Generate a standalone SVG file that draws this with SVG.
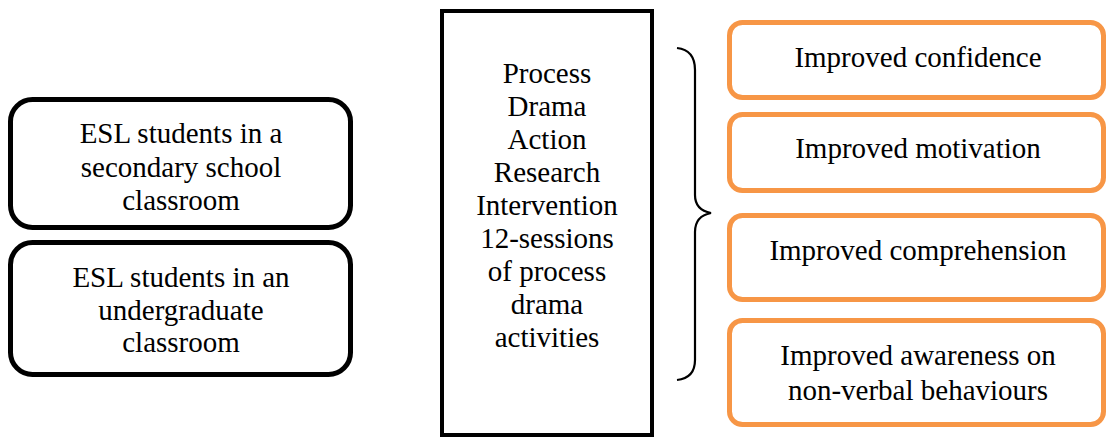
<svg xmlns="http://www.w3.org/2000/svg" width="1108" height="437" viewBox="0 0 1108 437">
<style>
.t{font-family:"Liberation Serif","Times New Roman",serif;font-size:29px;fill:#000;text-anchor:middle}
.blk{fill:#fff;stroke:#000;stroke-width:5}
.org{fill:#fff;stroke:#F79646;stroke-width:5}
</style>
<rect width="1108" height="437" fill="#fff"/>
<g id="node-secondary">
<rect class="blk" x="10.5" y="99.5" width="340" height="128" rx="22"/>
<text class="t" x="181" y="143">ESL students in a</text>
<text class="t" x="181" y="177">secondary school</text>
<text class="t" x="181" y="210">classroom</text>
</g>
<g id="node-undergraduate">
<rect class="blk" x="10.5" y="242.5" width="340" height="132" rx="22"/>
<text class="t" x="181" y="287">ESL students in an</text>
<text class="t" x="181" y="320">undergraduate</text>
<text class="t" x="181" y="352">classroom</text>
</g>
<g id="node-intervention">
<rect x="442" y="11" width="210" height="424" fill="#fff" stroke="#000" stroke-width="4"/>
<text class="t" x="547" y="83">Process</text>
<text class="t" x="547" y="116">Drama</text>
<text class="t" x="547" y="149">Action</text>
<text class="t" x="547" y="182">Research</text>
<text class="t" x="547" y="215">Intervention</text>
<text class="t" x="547" y="248">12-sessions</text>
<text class="t" x="547" y="281">of process</text>
<text class="t" x="547" y="314">drama</text>
<text class="t" x="547" y="347">activities</text>
</g>
<g id="connectors">
<path d="M677,48 Q695,50 695,70 L695,195 Q695,210 711,213 Q695,216 695,232 L695,360 Q695,378 677,380" fill="none" stroke="#000" stroke-width="2.2"/>
</g>
<g id="node-confidence">
<rect class="org" x="729.5" y="22.5" width="374" height="75" rx="13"/>
<text class="t" x="918" y="67">Improved confidence</text>
</g>
<g id="node-motivation">
<rect class="org" x="729.5" y="114.5" width="374" height="76" rx="13"/>
<text class="t" x="918" y="158">Improved motivation</text>
</g>
<g id="node-comprehension">
<rect class="org" x="729.5" y="215.5" width="374" height="84" rx="13"/>
<text class="t" x="918" y="260">Improved comprehension</text>
</g>
<g id="node-awareness">
<rect class="org" x="729.5" y="320.5" width="374" height="104" rx="13"/>
<text class="t" x="918" y="365">Improved awareness on</text>
<text class="t" x="918" y="400">non-verbal behaviours</text>
</g>
</svg>
